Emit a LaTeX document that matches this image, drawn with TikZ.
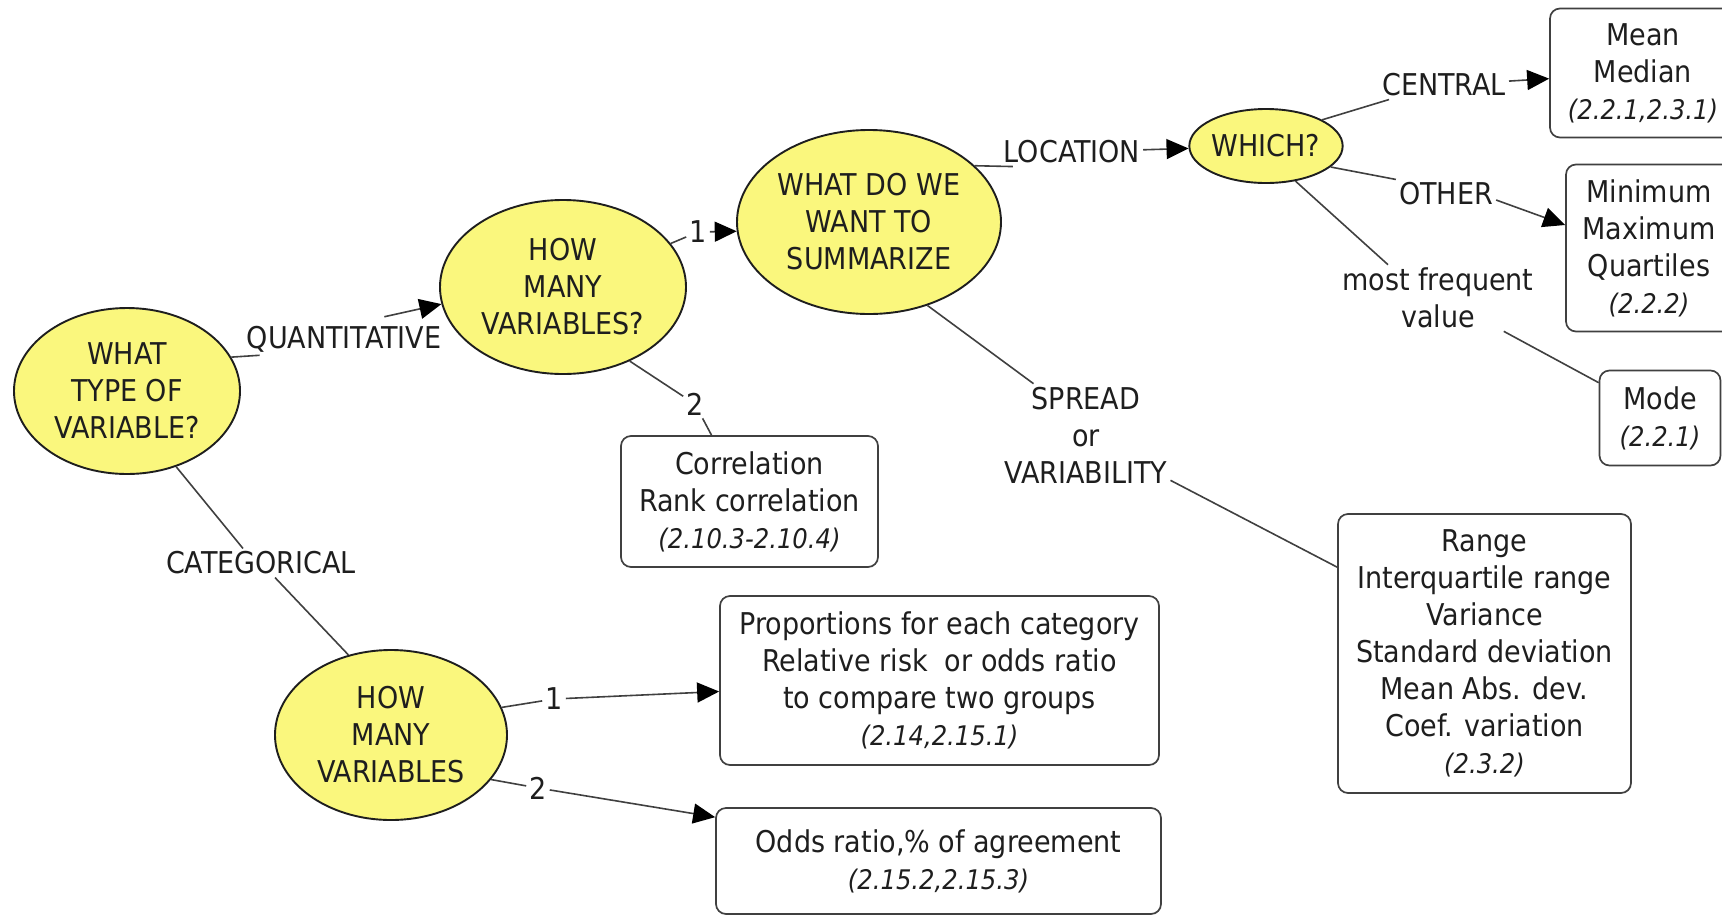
\documentclass[tikz,border=0pt]{standalone}
\usepackage{fontspec}
\setmainfont{DejaVu Sans Condensed}
\usetikzlibrary{shapes.geometric,arrows.meta}
\definecolor{qfill}{RGB}{250,247,125}
\definecolor{ink}{RGB}{30,30,30}
\newcommand\cmref[1]{{\fontsize{27}{37}\selectfont\itshape #1}}
\begin{document}
\begin{tikzpicture}[x=1pt,y=-1pt,
  every node/.style={font=\fontsize{30}{37}\selectfont, text=ink},
  question/.style={ellipse, draw=ink, line width=1.9pt, fill=qfill, align=center, inner sep=0pt},
  answer/.style={rectangle, rounded corners=10pt, draw=ink!85, line width=1.7pt, align=center, inner sep=0pt},
  link/.style={inner sep=3pt, align=center},
  conn/.style={draw=ink!85, line width=1.6pt},
  arr/.style={conn, -{Triangle[length=22pt,width=20pt,color=black]}},
]
\useasboundingbox (0,0) rectangle (1722,914);
\fill[white] (0,0) rectangle (1722,914);

% question ellipses
\node[question, minimum width=226pt, minimum height=166pt] (A) at (127,391) {WHAT\\TYPE OF\\VARIABLE?};
\node[question, minimum width=246pt, minimum height=174pt] (B) at (563,287) {HOW\\MANY\\VARIABLES?};
\node[question, minimum width=264pt, minimum height=184pt] (C) at (869,222) {WHAT DO WE\\WANT TO\\SUMMARIZE};
\node[question, minimum width=144pt, minimum height=74pt] (D) at (1266,146) {WHICH?};
\node[question, minimum width=232pt, minimum height=170pt] (E) at (391,735) {HOW\\MANY\\VARIABLES};

% answer boxes
\node[answer, minimum width=186pt, minimum height=129pt] (mean) at (1643,73) {Mean\\Median\\\cmref{(2.2.1,2.3.1)}};
\node[answer, minimum width=166pt, minimum height=167pt] (mini) at (1649,248) {Minimum\\Maximum\\Quartiles\\\cmref{(2.2.2)}};
\node[answer, minimum width=121pt, minimum height=95pt] (mode) at (1660,418) {Mode\\\cmref{(2.2.1)}};
\node[answer, minimum width=257pt, minimum height=131pt] (corr) at (749.5,501.5) {Correlation\\Rank correlation\\\cmref{(2.10.3-2.10.4)}};
\node[answer, minimum width=293pt, minimum height=279pt] (range) at (1484.5,653.5) {Range\\Interquartile range\\Variance\\Standard deviation\\Mean Abs. dev.\\Coef. variation\\\cmref{(2.3.2)}};
\node[answer, minimum width=439pt, minimum height=169pt] (prop) at (939.5,680.5) {Proportions for each category\\Relative risk~ or odds ratio\\to compare two groups\\\cmref{(2.14,2.15.1)}};
\node[answer, minimum width=445pt, minimum height=106pt] (odds) at (938.5,861) {Odds ratio,\% of agreement\\\cmref{(2.15.2,2.15.3)}};

% linking phrases
\node[link] (lq) at (344,339) {QUANTITATIVE};
\node[link] (lc) at (261,563) {CATEGORICAL};
\node[link] (l1) at (698,232) {1};
\node[link] (l2) at (695,404) {2};
\node[link] (lloc) at (1072,152) {LOCATION};
\node[link] (lcen) at (1444,85) {CENTRAL};
\node[link] (loth) at (1446,194) {OTHER};
\node[link] (lmf) at (1438,298) {most frequent\\value};
\node[link] (lspr) at (1086,435) {SPREAD\\or\\VARIABILITY};
\node[link] (lb1) at (554,699) {1};
\node[link] (lb2) at (538,788) {2};

% connectors
\draw[conn] (A.18) -- ([xshift=16pt]lq.south west);
\draw[arr] ([xshift=-60pt,yshift=6pt]lq.north east) -- (B.188);
\draw[conn] (A.-57) -- ([xshift=-18pt]lc.north);
\draw[conn] ([xshift=14pt]lc.south) -- (E.118);

\draw[conn] (B.22) -- (l1);
\draw[arr] (l1) -- (C.184);
\draw[conn] (B.-48) -- (l2);
\draw[conn] (l2) -- ([xshift=-38pt]corr.north);

\draw[conn] (C.28) -- ([xshift=12pt]lloc.south west);
\draw[arr] (lloc) -- (D);
\draw[conn] (C.-55) -- ([xshift=32pt]lspr.north west);
\draw[conn] ([yshift=6pt]lspr.south east) -- ([yshift=-54pt]range.north west);

\draw[conn] (D.25) -- ([xshift=10pt]lcen.south west);
\draw[arr] (lcen) -- (mean);
\draw[conn] (D.-18) -- (loth.north west);
\draw[arr] ([yshift=-6pt]loth.east) -- ([yshift=23pt]mini.west);
\draw[conn] (D.-50) -- ([xshift=-50pt]lmf.north);
\draw[conn] ([xshift=-33pt]lmf.south east) -- ([yshift=-13pt]mode.north west);

\draw[conn] (E.14) -- (lb1);
\draw[arr] (lb1) -- ([yshift=-11pt]prop.west);
\draw[conn] (E.-24) -- (lb2);
\draw[arr] (lb2) -- ([yshift=-10pt]odds.north west);
\end{tikzpicture}
\end{document}
